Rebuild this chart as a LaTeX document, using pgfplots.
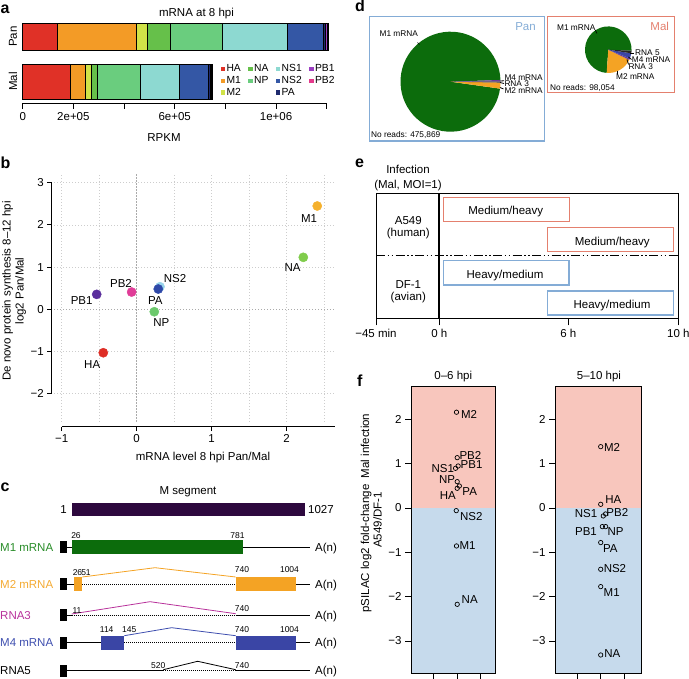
\documentclass[border=0pt]{standalone}
\usepackage{fontspec}
\setmainfont{Liberation Sans}
\usepackage{pgfplots}
\pgfplotsset{compat=1.18}

% panel a colours
\definecolor{cHA}{RGB}{224,49,39}
\definecolor{cM1}{RGB}{243,155,38}
\definecolor{cM2}{RGB}{208,226,72}
\definecolor{cNA}{RGB}{102,192,74}
\definecolor{cNP}{RGB}{106,205,126}
\definecolor{cNS1}{RGB}{141,217,209}
\definecolor{cNS2}{RGB}{52,87,165}
\definecolor{cPA}{RGB}{31,42,110}
\definecolor{cPB1}{RGB}{155,63,194}
\definecolor{cPB2}{RGB}{228,58,140}
% panel b colours
\definecolor{bM1}{RGB}{245,177,46}
\definecolor{bNA}{RGB}{128,204,76}
\definecolor{bPB1}{RGB}{90,46,156}
\definecolor{bPB2}{RGB}{224,61,152}
\definecolor{bNS2}{RGB}{152,211,234}
\definecolor{bPA}{RGB}{46,72,168}
\definecolor{bNP}{RGB}{108,201,108}
\definecolor{bHA}{RGB}{222,46,38}
\definecolor{gridc}{RGB}{205,205,205}
\definecolor{zeroc}{RGB}{170,170,170}
% panels c-f
\definecolor{segM}{RGB}{45,8,62}
\definecolor{dgreen}{RGB}{12,108,12}
\definecolor{dorange}{RGB}{244,163,36}
\definecolor{dpurple}{RGB}{106,61,154}
\definecolor{dblue}{RGB}{58,69,165}
\definecolor{lblue}{RGB}{63,79,175}
\definecolor{mag}{RGB}{184,50,155}
\definecolor{tgreen}{RGB}{40,140,40}
\definecolor{torange}{RGB}{244,170,50}
\definecolor{panblue}{RGB}{132,172,214}
\definecolor{malred}{RGB}{228,128,110}
\definecolor{pinkf}{RGB}{248,198,189}
\definecolor{bluef}{RGB}{198,218,236}

\newcommand{\fs}{\fontsize{11.5}{13}\selectfont}
\newcommand{\fn}{\fontsize{8.5}{10}\selectfont}
\newcommand{\fp}{\fontsize{8.3}{10}\selectfont}
\newcommand{\fl}{\fontsize{10.3}{11}\selectfont}
\newcommand{\fb}{\fontsize{16}{18}\selectfont\bfseries}

% pie wedge: centre x, centre y, radius, start, end, colour
\newcommand{\slice}[6]{\fill[#6] (#1,#2) -- ++(#4:#3) arc[start angle=#4, end angle=#5, radius=#3] -- cycle;}

\pgfplotsset{
  seg/.style={draw=black, line width=0.5pt},
  fpanel/.style={anchor=south west, scale only axis, height=286.6pt,
    ymin=-3.729, ymax=2.736, clip=false, axis on top,
    ytick={-3,-2,-1,0,1,2}, yticklabels={−3,−2,−1,0,1,2},
    xtick={1,2,3}, xticklabels={}, ytick pos=left, xtick pos=bottom,
    tick align=outside, major tick length=6pt,
    tick style={black, line width=0.8pt}, axis line style={line width=0.8pt},
    yticklabel style={font=\fs}},
  fpt/.style={only marks, mark=o, mark size=2.2pt, black, mark options={line width=0.7pt}},
}

\begin{document}
\begin{tikzpicture}[x=1pt, y=1pt, tx/.style={inner sep=0pt, font=\fs}, tn/.style={inner sep=0pt, font=\fn}, tp/.style={inner sep=0pt, font=\fp}]

% ---------------- panel a: Pan bar
\begin{axis}[at={(22.7pt,629pt)}, anchor=south west, scale only axis, width=304pt, height=27pt,
  xmin=0, xmax=1200000, ymin=0, ymax=1, hide axis, clip=false,
  xbar stacked, bar width=27pt, bar shift=0pt]
\addplot[seg, fill=cHA]  coordinates {(138200,0.5)};
\addplot[seg, fill=cM1]  coordinates {(311800,0.5)};
\addplot[seg, fill=cM2]  coordinates {(42100,0.5)};
\addplot[seg, fill=cNA]  coordinates {(92100,0.5)};
\addplot[seg, fill=cNP]  coordinates {(204000,0.5)};
\addplot[seg, fill=cNS1] coordinates {(256600,0.5)};
\addplot[seg, fill=cNS2] coordinates {(142100,0.5)};
\addplot[seg, fill=cPA]  coordinates {(7900,0.5)};
\addplot[seg, fill=cPB1] coordinates {(6600,0.5)};
\addplot[seg, fill=cPB2] coordinates {(5300,0.5)};
\end{axis}

% ---------------- panel a: Mal bar + RPKM axis
\begin{axis}[at={(22.7pt,576pt)}, anchor=south west, scale only axis, width=304pt, height=39pt,
  xmin=0, xmax=1200000, ymin=0, ymax=39, clip=false,
  xbar stacked, bar width=35pt, bar shift=0pt,
  axis x line*=bottom, axis y line=none, scaled x ticks=false,
  xtick={0,200000,400000,600000,800000,1000000,1200000},
  xticklabels={0,2e+05,,6e+05,,1e+06,},
  tick align=outside, major tick length=6pt,
  x axis line style={line width=0.6pt}, tick style={black, line width=0.6pt},
  xticklabel style={font=\fs}]
\addplot[seg, fill=cHA]  coordinates {(187900,21.5)};
\addplot[seg, fill=cM1]  coordinates {(58000,21.5)};
\addplot[seg, fill=cM2]  coordinates {(26400,21.5)};
\addplot[seg, fill=cNA]  coordinates {(22100,21.5)};
\addplot[seg, fill=cNP]  coordinates {(171300,21.5)};
\addplot[seg, fill=cNS1] coordinates {(152400,21.5)};
\addplot[seg, fill=cNS2] coordinates {(114500,21.5)};
\addplot[seg, fill=cPA]  coordinates {(7900,21.5)};
\addplot[seg, fill=cPB1] coordinates {(3900,21.5)};
\addplot[seg, fill=cPB2] coordinates {(3900,21.5)};
\end{axis}

% ---------------- panel a: legend
\begin{axis}[at={(220.5pt,617pt)}, anchor=north west, scale only axis, width=1pt, height=1pt,
  hide axis, xmin=0, xmax=1, ymin=0, ymax=1,
  legend columns=4, legend cell align=left,
  legend style={at={(0,1)}, anchor=north west, draw=none, fill=none, font=\fl,
    inner sep=0pt, row sep=-0.8pt,
    /tikz/every even column/.append style={column sep=5.5pt}},
  legend image code/.code={\fill[#1] (0pt,-1.7pt) rectangle (3.4pt,1.7pt);}]
\addlegendimage{cHA}\addlegendentry{HA}
\addlegendimage{cNA}\addlegendentry{NA}
\addlegendimage{cNS1}\addlegendentry{NS1}
\addlegendimage{cPB1}\addlegendentry{PB1}
\addlegendimage{cM1}\addlegendentry{M1}
\addlegendimage{cNP}\addlegendentry{NP}
\addlegendimage{cNS2}\addlegendentry{NS2}
\addlegendimage{cPB2}\addlegendentry{PB2}
\addlegendimage{cM2}\addlegendentry{M2}
\addlegendimage{empty legend}\addlegendentry{}
\addlegendimage{cPA}\addlegendentry{PA}
\addlegendimage{empty legend}\addlegendentry{}
\end{axis}

% ---------------- panel b
\begin{axis}[at={(51.7pt,252.3pt)}, anchor=south west, scale only axis, width=283.7pt, height=253.7pt,
  xmin=-1.133, xmax=2.65, ymin=-2.78, ymax=3.23, clip=false,
  axis x line*=bottom, axis y line*=left, axis line style={draw=none},
  xtick={-1,0,1,2}, xticklabels={−1,0,1,2},
  ytick={-2,-1,0,1,2,3}, yticklabels={−2,−1,0,1,2,3},
  tick align=outside, major tick length=4.5pt, tick style={black, line width=1.1pt},
  ticklabel style={font=\fs}]
\pgfplotsinvokeforeach{-1,-0.5,0.5,1,1.5,2,2.5}{
  \draw[gridc, line width=0.6pt, dash pattern=on 1pt off 2pt] (#1,-2.66) -- (#1,3.23);}
\pgfplotsinvokeforeach{-2,-1,1,2,3}{
  \draw[gridc, line width=0.6pt, dash pattern=on 1pt off 2pt] (-1.1,#1) -- (2.63,#1);}
\draw[zeroc, line width=1.2pt, dash pattern=on 1.2pt off 1.8pt] (0,-2.66) -- (0,3.23);
\draw[zeroc, line width=1.2pt, dash pattern=on 1.2pt off 1.8pt] (-1.1,0) -- (2.63,0);
\draw[line width=1.2pt] (-1.133,-2) -- (-1.133,3);
\draw[line width=1.2pt] (-1,-2.78) -- (2.64,-2.78);
\addplot[only marks, mark=*, mark size=4.6pt, bM1]  coordinates {(2.408,2.448)};
\addplot[only marks, mark=*, mark size=4.6pt, bNA]  coordinates {(2.222,1.232)};
\addplot[only marks, mark=*, mark size=4.6pt, bPB1] coordinates {(-0.533,0.355)};
\addplot[only marks, mark=*, mark size=4.6pt, bPB2] coordinates {(-0.067,0.41)};
\addplot[only marks, mark=*, mark size=4.6pt, bNS2] coordinates {(0.311,0.536)};
\addplot[only marks, mark=*, mark size=4.6pt, bPA]  coordinates {(0.288,0.481)};
\addplot[only marks, mark=*, mark size=4.6pt, bNP]  coordinates {(0.235,-0.057)};
\addplot[only marks, mark=*, mark size=4.6pt, bHA]  coordinates {(-0.445,-1.028)};
\node[tx] at (2.30,2.15) {M1};
\node[tx] at (2.08,0.995) {NA};
\node[tx] at (-0.733,0.204) {PB1};
\node[tx] at (-0.209,0.616) {PB2};
\node[tx] at (0.511,0.735) {NS2};
\node[tx] at (0.248,0.220) {PA};
\node[tx] at (0.328,-0.318) {NP};
\node[tx] at (-0.593,-1.315) {HA};
\end{axis}

% ---------------- panel e
\begin{axis}[at={(376pt,360.7pt)}, anchor=south west, scale only axis, width=302.3pt, height=125pt,
  xmin=376, xmax=678.3, ymin=360.7, ymax=485.7, clip=false,
  axis line style={line width=0.9pt},
  xtick={376,439.3,568.3,678.3}, xticklabels={−45 min,0 h,6 h,10 h}, ytick=\empty,
  xtick pos=bottom, tick align=outside, major tick length=7pt,
  tick style={black, line width=0.9pt}, xticklabel style={font=\fs}]
\draw[line width=2.2pt] (439.3,360.7) -- (439.3,485.7);
\draw[line width=1.3pt, dash pattern=on 9pt off 2.5pt on 1.5pt off 2.5pt on 1.5pt off 2.5pt] (376,423.3) -- (678.3,423.3);
\draw[malred, line width=1.1pt] (443.3,457.3) rectangle (569.3,481.3);
\draw[malred, line width=1.1pt] (547.3,427.3) rectangle (673.3,451.7);
\draw[panblue, line width=1.1pt] (443.3,394) rectangle (569,418.3);
\draw[panblue, line width=1.1pt] (547.3,364) rectangle (673.3,388);
\node[tx, anchor=base] at (505.7,464.2) {Medium/heavy};
\node[tx, anchor=base] at (612.3,433.9) {Medium/heavy};
\node[tx, anchor=base] at (505,400.2) {Heavy/medium};
\node[tx, anchor=base] at (612,370.6) {Heavy/medium};
\end{axis}

% ---------------- panel f, 0-6 hpi
\begin{axis}[fpanel, at={(411pt,5.7pt)}, width=84.7pt, xmin=0.043, xmax=3.63]
\fill[pinkf] (0.043,0) rectangle (3.63,2.736);
\fill[bluef] (0.043,-3.729) rectangle (3.63,0);
\addplot[fpt] coordinates {
  (1.97,2.16) (2.0,1.135) (2.04,0.947) (1.93,0.895) (2.0,0.594)
  (2.09,0.496) (2.0,0.444) (1.96,-0.06) (1.97,-0.857) (2.0,-2.173)};
\node[tx] at (2.50,2.12) {M2};
\node[tx] at (2.56,1.195) {PB2};
\node[tx] at (2.61,0.99) {PB1};
\node[tx] at (1.39,0.88) {NS1};
\node[tx] at (1.57,0.647) {NP};
\node[tx] at (2.53,0.368) {PA};
\node[tx] at (1.60,0.278) {HA};
\node[tx] at (2.60,-0.195) {NS2};
\node[tx] at (2.44,-0.85) {M1};
\node[tx] at (2.53,-2.075) {NA};
\end{axis}

% ---------------- panel f, 5-10 hpi
\begin{axis}[fpanel, at={(555pt,5.7pt)}, width=86.7pt, xmin=0.04, xmax=3.757]
\fill[pinkf] (0.04,0) rectangle (3.757,2.736);
\fill[bluef] (0.04,-3.729) rectangle (3.757,0);
\addplot[fpt] coordinates {
  (2.0,1.383) (2.0,0.083) (2.21,-0.135) (2.11,-0.18) (2.07,-0.42)
  (2.21,-0.42) (2.0,-0.78) (2.0,-1.383) (2.0,-1.774) (2.0,-3.316)};
\node[tx] at (2.49,1.368) {M2};
\node[tx] at (2.54,0.18) {HA};
\node[tx] at (2.71,-0.105) {PB2};
\node[tx] at (1.37,-0.135) {NS1};
\node[tx] at (1.37,-0.526) {PB1};
\node[tx] at (2.64,-0.541) {NP};
\node[tx] at (2.41,-0.925) {PA};
\node[tx] at (2.61,-1.36) {NS2};
\node[tx] at (2.47,-1.91) {M1};
\node[tx] at (2.50,-3.28) {NA};
\end{axis}

% ---------------- canvas for panels c and d and free text
\begin{axis}[at={(0pt,0pt)}, anchor=south west, scale only axis, width=689pt, height=679pt,
  xmin=0, xmax=689, ymin=0, ymax=679, hide axis, clip=false]
% panel letters
\node[inner sep=0pt, font=\fb, anchor=base west] at (0.5,665.7) {a};
\node[inner sep=0pt, font=\fb, anchor=base west] at (0.5,510.7) {b};
\node[inner sep=0pt, font=\fb, anchor=base west] at (0.5,187.3) {c};
\node[inner sep=0pt, font=\fb, anchor=base west] at (355,667) {d};
\node[inner sep=0pt, font=\fb, anchor=base west] at (355,511.7) {e};
\node[inner sep=0pt, font=\fb, anchor=base west] at (357,292.5) {f};
% panel a text
\node[tx, anchor=base] at (196.5,662.2) {mRNA at 8 hpi};
\node[tx, rotate=90] at (13,642.5) {Pan};
\node[tx, rotate=90] at (13,597.5) {Mal};
\node[tx, anchor=base] at (164,537.9) {RPKM};
% panel b text
\node[tx, rotate=90, anchor=base] at (10.5,388) {De novo protein synthesis 8–12 hpi};
\node[tx, rotate=90, anchor=base] at (23.5,388) {log2 Pan/Mal};
\node[tx, anchor=base] at (203,218) {mRNA level 8 hpi Pan/Mal};
% panel c
\node[tx, anchor=base] at (188,184.2) {M segment};
\fill[segM] (71.7,163) rectangle (305,176.3);
\node[tx, anchor=base east] at (67,165.6) {1};
\node[tx, anchor=base west] at (308,165.6) {1027};
% M1 mRNA
\fill[black] (60,125.7) rectangle (66.7,137.7);
\draw[line width=0.9pt] (66.7,131.7) -- (310,131.7);
\fill[dgreen] (71.7,124.7) rectangle (243.3,138.7);
\node[tx, anchor=base west, text=tgreen] at (0,127.6) {M1 mRNA};
\node[tx, anchor=base west] at (315,127.6) {A(n)};
\node[tn, anchor=base] at (76,140) {26};
\node[tn, anchor=base] at (237.5,140) {781};
% M2 mRNA
\fill[black] (60,89) rectangle (66.7,101);
\draw[line width=0.9pt] (66.7,95) -- (74,95);
\draw[line width=0.9pt, dash pattern=on 1pt off 1pt] (82.3,95) -- (235.7,95);
\draw[line width=0.9pt] (295.7,95) -- (310,95);
\fill[dorange] (74,88) rectangle (82.3,102);
\fill[dorange] (235.7,88) rectangle (295.7,102);
\draw[dorange, line width=0.8pt] (82.3,102) -- (155,111.3) -- (235.7,102);
\node[tx, anchor=base west, text=torange] at (0,90.9) {M2 mRNA};
\node[tx, anchor=base west] at (315,90.9) {A(n)};
\node[tn, anchor=base] at (77.5,103.3) {26};
\node[tn, anchor=base] at (86,103.3) {51};
\node[tn, anchor=base] at (242,106.7) {740};
\node[tn, anchor=base] at (289.5,106.7) {1004};
% RNA3
\fill[black] (60,58) rectangle (66.7,70);
\draw[line width=0.9pt] (66.7,64) -- (71.7,64);
\draw[line width=0.9pt, dash pattern=on 1pt off 1pt] (71.7,64) -- (235.7,64);
\draw[line width=0.9pt] (235.7,64) -- (310,64);
\draw[mag, line width=0.8pt] (71.7,65) -- (150,77.3) -- (235.7,65.3);
\node[tx, anchor=base west, text=mag] at (0,59.9) {RNA3};
\node[tx, anchor=base west] at (315,59.9) {A(n)};
\node[tn, anchor=base] at (77,65.3) {11};
\node[tn, anchor=base] at (242,67.7) {740};
% M4 mRNA
\fill[black] (60,30.3) rectangle (66.7,42.3);
\draw[line width=0.9pt] (66.7,36.3) -- (100.7,36.3);
\draw[line width=0.9pt, dash pattern=on 1pt off 1pt] (124.3,36.3) -- (235.7,36.3);
\draw[line width=0.9pt] (295.7,36.3) -- (310,36.3);
\fill[dblue] (100.7,29.3) rectangle (124.3,43.3);
\fill[dblue] (235.7,29.3) rectangle (295.7,43.3);
\draw[lblue, line width=0.8pt] (124.3,43.3) -- (171.7,51.3) -- (235.7,43.3);
\node[tx, anchor=base west, text=lblue] at (0,32.2) {M4 mRNA};
\node[tx, anchor=base west] at (315,32.2) {A(n)};
\node[tn, anchor=base] at (106.7,46.7) {114};
\node[tn, anchor=base] at (129.3,46.7) {145};
\node[tn, anchor=base] at (242,46.7) {740};
\node[tn, anchor=base] at (289.5,46.7) {1004};
% RNA5
\fill[black] (60,2.3) rectangle (66.7,14.3);
\draw[line width=0.9pt] (66.7,8.3) -- (163.3,8.3);
\draw[line width=0.9pt, dash pattern=on 1pt off 1pt] (163.3,8.3) -- (235.7,8.3);
\draw[line width=0.9pt] (235.7,8.3) -- (310,8.3);
\draw[black, line width=0.8pt] (163.3,9.3) -- (197.7,17.7) -- (235.7,9.3);
\node[tx, anchor=base west] at (0,4.2) {RNA5};
\node[tx, anchor=base west] at (315,4.2) {A(n)};
\node[tn, anchor=base] at (158.3,10.3) {520};
\node[tn, anchor=base] at (242,10.3) {740};
% panel d: Pan
\draw[panblue, line width=1.2pt] (369.3,538) rectangle (544.3,662.3);
\slice{450.5}{597.3}{50}{2}{352}{dgreen}
\slice{450.5}{597.3}{50}{352}{359}{dorange}
\slice{450.5}{597.3}{50}{359}{360.5}{black!80}
\slice{450.5}{597.3}{50}{360.5}{362}{dpurple}
\node[tx, anchor=base, text=panblue] at (525.5,648.2) {Pan};
\node[tp, anchor=base] at (398.8,642.7) {M1 mRNA};
\draw[line width=0.6pt] (417.5,636.5) -- (419.5,634.5);
\node[tp, anchor=base west] at (504.3,598.7) {M4 mRNA};
\node[tp, anchor=base west] at (504.3,592) {RNA 3};
\node[tp, anchor=base west] at (504.3,585) {M2 mRNA};
\draw[line width=0.8pt] (500,598) -- (504,598.2);
\draw[line width=0.8pt] (500,596.5) -- (504,595.5);
\draw[line width=0.8pt] (500,591.5) -- (503.5,590);
\node[tp, anchor=base west] at (371,541) {No reads: 475,869};
% panel d: Mal
\draw[malred, line width=1.2pt] (547.7,586.7) rectangle (674.3,662.3);
\slice{608.3}{629.3}{23.3}{-2.6}{266}{dgreen}
\slice{608.3}{629.3}{23.3}{266}{334}{dorange}
\slice{608.3}{629.3}{23.3}{334}{338}{dpurple}
\slice{608.3}{629.3}{23.3}{338}{351}{dblue}
\slice{608.3}{629.3}{23.3}{351}{357.4}{black!85}
\node[tx, anchor=base, text=malred] at (659.7,648.2) {Mal};
\node[tp, anchor=base] at (576.3,648.7) {M1 mRNA};
\draw[line width=0.6pt] (595.3,649) -- (597,645.5);
\node[tp, anchor=base west] at (635,623.3) {RNA 5};
\node[tp, anchor=base west] at (631.7,616) {M4 mRNA};
\node[tp, anchor=base west] at (628.3,609.3) {RNA 3};
\node[tp, anchor=base west] at (616,599.3) {M2 mRNA};
\draw[line width=0.8pt] (630,625.7) -- (634.3,625.7);
\draw[line width=0.8pt] (628.5,622) -- (631.5,619.5);
\draw[line width=0.8pt] (627,619.5) -- (628.5,614.5);
\draw[line width=0.8pt] (617.3,608) -- (617.3,605);
\node[tp, anchor=base west] at (550,588.3) {No reads: 98,054};
% panel e text
\node[tx, anchor=base] at (408,505.6) {Infection};
\node[tx, anchor=base] at (408,490.9) {(Mal, MOI=1)};
\node[tx, anchor=base] at (408.3,454.9) {A549};
\node[tx, anchor=base] at (408.3,442.2) {(human)};
\node[tx, anchor=base] at (408.3,390.9) {DF-1};
\node[tx, anchor=base] at (408.3,378.2) {(avian)};
% panel f text
\node[tx, anchor=base] at (453.3,299.6) {0–6 hpi};
\node[tx, anchor=base] at (599,299.6) {5–10 hpi};
\node[tx, rotate=90, anchor=base] at (369,166) {pSILAC log2 fold-change\ \ Mal infection};
\node[tx, rotate=90, anchor=base] at (381.5,159) {A549/DF-1};
\end{axis}
\pgfresetboundingbox
\useasboundingbox (0,0) rectangle (689,679);
\end{tikzpicture}
\end{document}
